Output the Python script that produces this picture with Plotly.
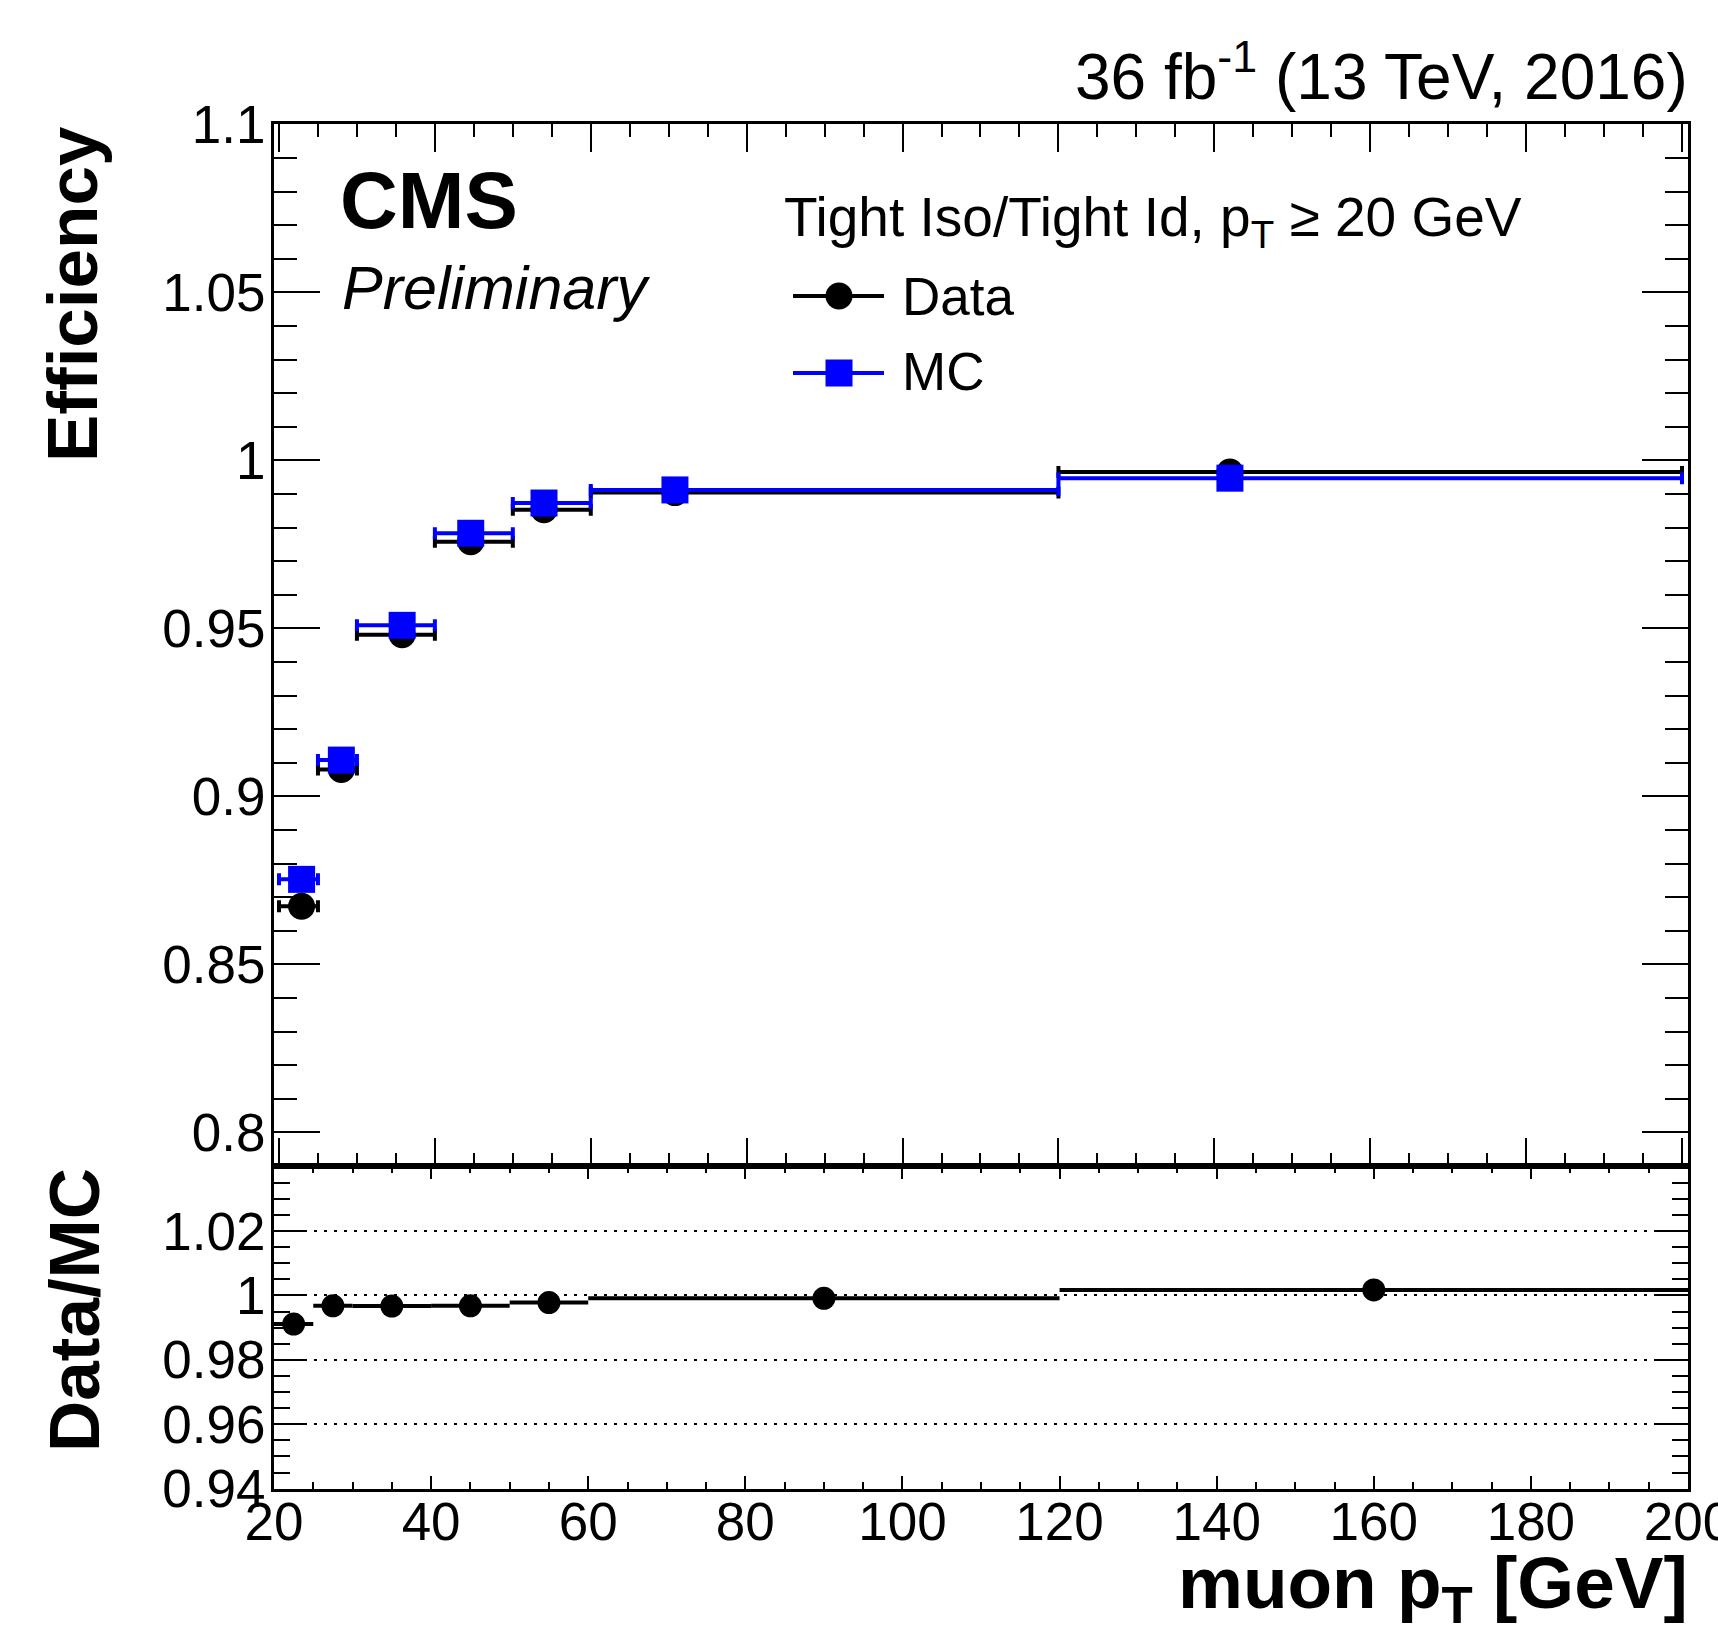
import plotly.graph_objects as go

# ---------------- data ----------------
bin_lo = [20, 25, 30, 40, 50, 60, 120]
bin_hi = [25, 30, 40, 50, 60, 120, 200]
pt_mean = [22.9, 28.0, 35.8, 44.6, 54.0, 70.8, 142.0]
eff_data = [0.8673, 0.9080, 0.9481, 0.9758, 0.9853, 0.9904, 0.9965]
eff_mc = [0.8753, 0.9108, 0.9509, 0.9783, 0.9873, 0.9912, 0.9947]
ratio = [0.9911, 0.9968, 0.9967, 0.9968, 0.9978, 0.9991, 1.0017]

eff_ticks = [0.8, 0.85, 0.9, 0.95, 1.0, 1.05, 1.1]
eff_ticktext = ["0.8", "0.85", "0.9", "0.95", "1", "1.05", "1.1"]
ratio_ticks = [0.94, 0.96, 0.98, 1.0, 1.02]
ratio_ticktext = ["0.94", "0.96", "0.98", "1", "1.02"]
pt_ticks = [20, 40, 60, 80, 100, 120, 140, 160, 180, 200]

W, H = 1718, 1628
FONT = "Liberation Sans, Arial, Helvetica, sans-serif"
BLUE = "#0000ff"


def px(x):
    return x / W


def py(y):
    return 1 - y / H


bin_center = [(a + b) / 2 for a, b in zip(bin_lo, bin_hi)]
up_err = [h - m for h, m in zip(bin_hi, pt_mean)]
dn_err = [m - l for l, m in zip(bin_lo, pt_mean)]
half_w = [(b - a) / 2 for a, b in zip(bin_lo, bin_hi)]

fig = go.Figure()

fig.add_trace(go.Scatter(
    x=pt_mean, y=eff_data, mode="markers", name="Data",
    marker=dict(symbol="circle", size=27, color="black"),
    error_x=dict(type="data", symmetric=False, array=up_err, arrayminus=dn_err,
                 color="black", thickness=4, width=6),
    xaxis="x", yaxis="y", showlegend=False, cliponaxis=False))

fig.add_trace(go.Scatter(
    x=pt_mean, y=eff_mc, mode="markers", name="MC",
    marker=dict(symbol="square", size=27, color=BLUE),
    error_x=dict(type="data", symmetric=False, array=up_err, arrayminus=dn_err,
                 color=BLUE, thickness=4, width=6),
    xaxis="x", yaxis="y", showlegend=False, cliponaxis=False))

fig.add_trace(go.Scatter(
    x=bin_center, y=ratio, mode="markers", name="Data/MC",
    marker=dict(symbol="circle", size=23, color="black"),
    error_x=dict(type="data", array=half_w, color="black", thickness=4, width=0),
    xaxis="x2", yaxis="y2", showlegend=False, cliponaxis=False))

x_dom = [px(274), px(1688)]
axis_common = dict(showline=True, linecolor="black", linewidth=3, mirror="allticks",
                   ticks="inside", tickcolor="black", tickwidth=2, zeroline=False,
                   automargin=False, ticklabeloverflow="allow",
                   tickfont=dict(family=FONT, size=53, color="black"))

fig.update_layout(
    width=W, height=H, autosize=False,
    margin=dict(l=0, r=0, t=0, b=0),
    paper_bgcolor="white", plot_bgcolor="white",
    font=dict(family=FONT, color="black"),
    xaxis=dict(domain=x_dom, anchor="y", range=[19.36, 200.77], showgrid=False,
               tickvals=pt_ticks, showticklabels=False, ticklen=28,
               minor=dict(ticks="inside", dtick=5, tick0=20, ticklen=13,
                          tickwidth=2, tickcolor="black", showgrid=False),
               **axis_common),
    yaxis=dict(domain=[py(1166), py(124)], anchor="x", range=[0.79, 1.1001], showgrid=False,
               tickvals=eff_ticks, ticktext=eff_ticktext, ticklen=46, ticklabelstandoff=-5,
               minor=dict(ticks="inside", dtick=0.01, tick0=0.8, ticklen=23,
                          tickwidth=2, tickcolor="black", showgrid=False),
               **axis_common),
    xaxis2=dict(domain=x_dom, anchor="y2", range=[19.9999, 200.0001], showgrid=False,
                tickvals=pt_ticks, ticklen=13, ticklabelstandoff=-16,
                minor=dict(ticks="inside", dtick=5, tick0=20, ticklen=7,
                           tickwidth=2, tickcolor="black", showgrid=False),
                **axis_common),
    yaxis2=dict(domain=[py(1489), py(1166)], anchor="x2", range=[0.9399, 1.0402],
                tickvals=ratio_ticks, ticktext=ratio_ticktext, ticklen=33, ticklabelstandoff=-5,
                showgrid=True, gridcolor="black", gridwidth=2, griddash="3px,7px",
                minor=dict(ticks="inside", dtick=0.005, tick0=0.94, ticklen=16,
                           tickwidth=2, tickcolor="black", showgrid=False),
                **axis_common),
)


def ann(text, x, y, xanchor, yanchor, size, weight="normal", style="normal", angle=0):
    fig.add_annotation(text=text, xref="paper", yref="paper", x=px(x), y=py(y),
                       xanchor=xanchor, yanchor=yanchor, showarrow=False, textangle=angle,
                       font=dict(family=FONT, size=size, color="black", weight=weight, style=style))


ann("36 fb<sup>-1</sup> (13 TeV, 2016)", 1690, 72, "right", "middle", 64)
ann("CMS", 338, 201, "left", "middle", 80, weight="bold")
ann("Preliminary", 340, 288, "left", "middle", 61, style="italic")
ann("Tight Iso/Tight Id, p<sub>T</sub> ≥ 20 GeV", 782, 221, "left", "middle", 55)
ann("Data", 900, 296, "left", "middle", 53)
ann("MC", 900, 372, "left", "middle", 53)
ann("Efficiency", 72, 124, "center", "top", 71, weight="bold", angle=-90)
ann("Data/MC", 74, 1166, "center", "top", 71, weight="bold", angle=-90)
ann("muon p<sub>T</sub> [GeV]", 1690, 1588, "right", "middle", 73, weight="bold")

# legend symbols
for yc, col, shp in [(296, "black", "circle"), (373, BLUE, "rect")]:
    fig.add_shape(type="line", xref="paper", yref="paper", x0=px(793), x1=px(884),
                  y0=py(yc), y1=py(yc), line=dict(color=col, width=4))
    fig.add_shape(type=shp, xref="paper", yref="paper", xsizemode="pixel", ysizemode="pixel",
                  xanchor=px(839), yanchor=py(yc), x0=-13.5, x1=13.5, y0=-13.5, y1=13.5,
                  fillcolor=col, line=dict(color=col, width=0))

fig.write_html("out.html")
